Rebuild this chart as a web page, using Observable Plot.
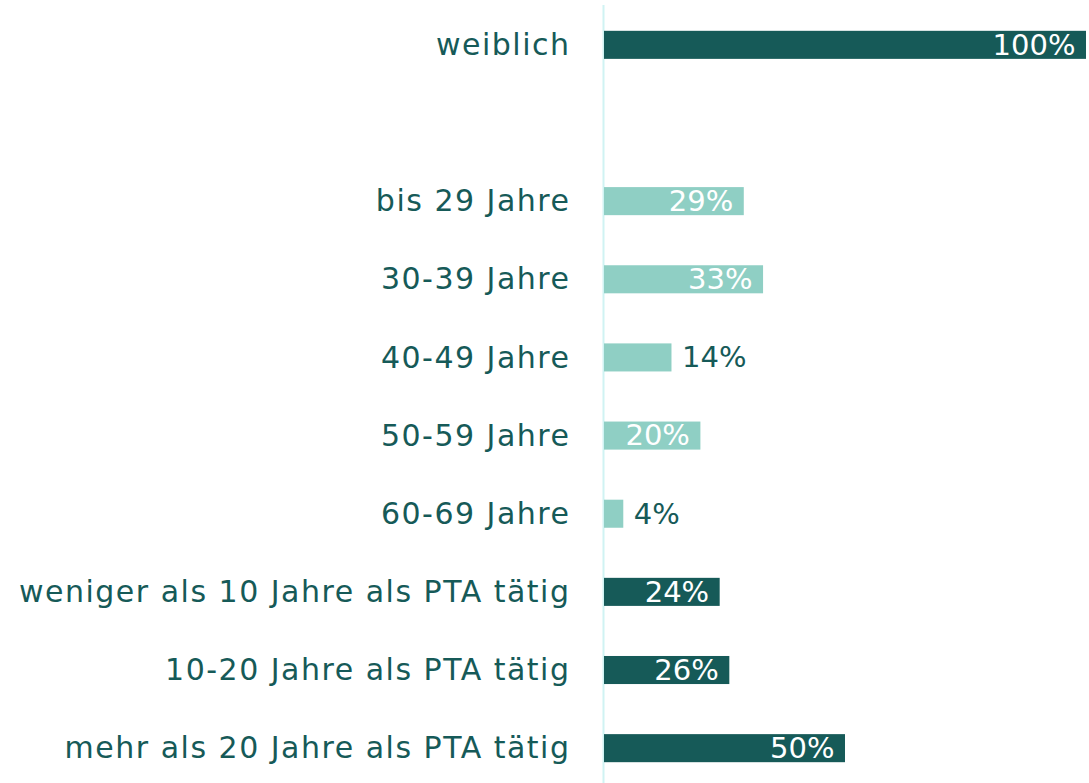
<!DOCTYPE html>
<html>
<head>
<meta charset="utf-8">
<script src="https://cdn.jsdelivr.net/npm/d3@7"></script>
<script src="https://cdn.jsdelivr.net/npm/@observablehq/plot@0.6"></script>
<style>
  html, body { margin: 0; padding: 0; background: #ffffff; }
  #chart svg { display: block; }
</style>
</head>
<body>
<div id="chart"></div>
<script>
const categories = [
  "weiblich",
  " ",
  "bis 29 Jahre",
  "30-39 Jahre",
  "40-49 Jahre",
  "50-59 Jahre",
  "60-69 Jahre",
  "weniger als 10 Jahre als PTA tätig",
  "10-20 Jahre als PTA tätig",
  "mehr als 20 Jahre als PTA tätig"
];
const values = [100, null, 29, 33, 14, 20, 4, 24, 26, 50];
const groups = ["dunkel", null, "hell", "hell", "hell", "hell", "hell", "dunkel", "dunkel", "dunkel"];
const groupColors = { dunkel: "#165a58", hell: "#8fcfc4" };

const rows = categories.map((c, i) => ({ category: c, value: values[i], group: groups[i] }))
  .filter(d => d.value != null);
const inside = rows.filter(d => d.value >= 20);
const outside = rows.filter(d => d.value < 20);

const font = "DejaVu Sans, sans-serif";

const chart = Plot.plot({
  width: 1089,
  height: 783,
  marginLeft: 604,
  marginRight: 3,
  marginTop: 23,
  marginBottom: 13,
  style: { fontFamily: font, background: "#ffffff" },
  x: { domain: [0, 100], axis: null },
  y: { domain: categories, axis: null, paddingInner: 0.641, paddingOuter: 0.1, round: false },
  marks: [
    Plot.ruleX([0], { stroke: "#d0f3f3", strokeWidth: 2, dx: -1, insetTop: -18, insetBottom: -14 }),
    Plot.barX(rows, { x: "value", y: "category", fill: d => groupColors[d.group] }),
    Plot.text(categories.filter(c => c.trim() !== ""), {
      x: 0, y: d => d, text: d => d, textAnchor: "end", dx: -34,
      fill: "#165a58", fontSize: 30, fontFamily: font
    }),
    Plot.text(inside, {
      x: "value", y: "category", text: d => d.value + "%", textAnchor: "end", dx: -11,
      fill: "#ffffff", fontSize: 29, fontFamily: font
    }),
    Plot.text(outside, {
      x: "value", y: "category", text: d => d.value + "%", textAnchor: "start", dx: 10,
      fill: "#165a58", fontSize: 29, fontFamily: font
    })
  ]
});
// widen the category labels (the original typeface is a wide grotesk)
const textGroups = chart.querySelectorAll('g[aria-label="text"]');
if (textGroups.length) textGroups[0].setAttribute("letter-spacing", "1.5");
document.getElementById("chart").appendChild(chart);
</script>
</body>
</html>
